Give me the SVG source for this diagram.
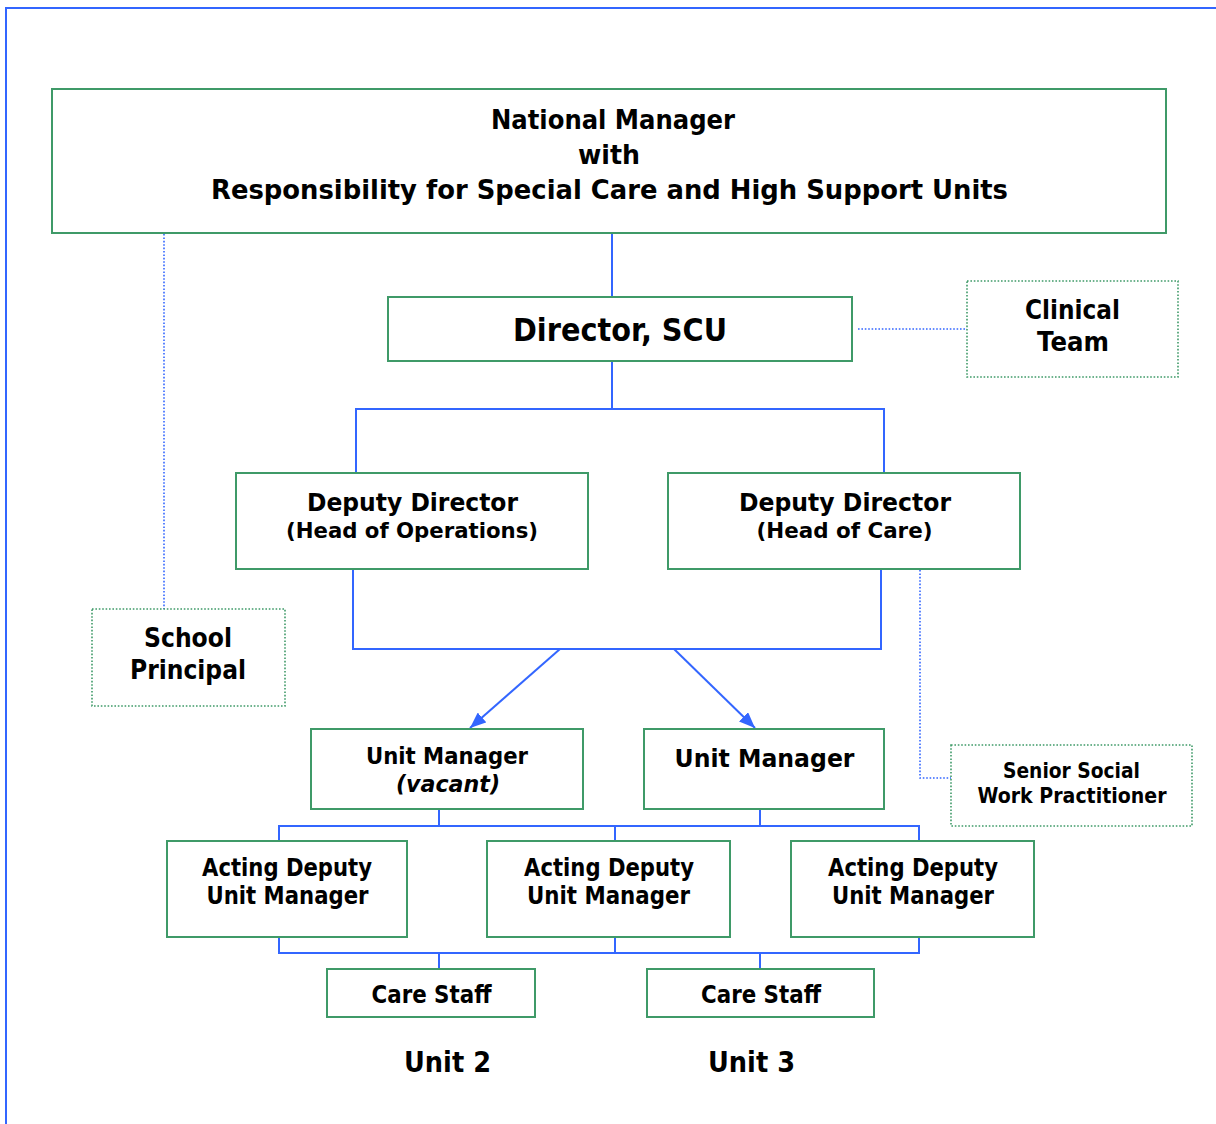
<svg xmlns="http://www.w3.org/2000/svg" width="1216" height="1124" viewBox="0 0 1216 1124">
  <defs>
    <style>
      .box { fill: #ffffff; stroke: #3f9a68; stroke-width: 2; }
      .dbox { fill: #ffffff; stroke: #3f9a68; stroke-width: 1.6; stroke-dasharray: 1.6 1.8; }
      .ln { fill: none; stroke: #3366ff; stroke-width: 2; }
      .dl { fill: none; stroke: #3366ff; stroke-width: 1.6; stroke-dasharray: 1.6 1.8; }
      text { font-family: "DejaVu Sans", Verdana, "Liberation Sans", sans-serif; font-weight: bold; fill: #000000; text-anchor: middle; }
      .it { font-style: italic; }
    </style>
    <marker id="arrow" viewBox="0 0 16 13" refX="16" refY="6.5" markerWidth="16" markerHeight="13" markerUnits="userSpaceOnUse" orient="auto">
      <path d="M0,0 L16,6.5 L0,13 z" fill="#3366ff"/>
    </marker>
  </defs>

  <rect width="1216" height="1124" fill="#ffffff"/>
  <!-- page frame -->
  <rect x="6" y="8" width="1240" height="1140" fill="none" stroke="#3366ff" stroke-width="2"/>

  <!-- connectors -->
  <g id="connectors">
    <path class="ln" d="M612,233 V297"/>
    <path class="ln" d="M612,361 V409 M356,473 V409 H884 V473"/>
    <path class="ln" d="M353,569 V649 H881 V569"/>
    <path class="ln" d="M560,649 L470,728" marker-end="url(#arrow)"/>
    <path class="ln" d="M674,649 L755,728" marker-end="url(#arrow)"/>
    <path class="ln" d="M439,809 V826 M760,809 V826 M279,841 V826 H919 V841 M615,826 V841"/>
    <path class="ln" d="M279,937 V953 H919 V937 M615,937 V953 M439,953 V969 M760,953 V969"/>
    <path class="dl" d="M164,234 V609"/>
    <path class="dl" d="M858,329 H967"/>
    <path class="dl" d="M920,570 V778 H951"/>
  </g>

  <g id="national-manager">
    <rect class="box" x="52" y="89" width="1114" height="144"/>
    <text x="613" y="129" font-size="27" textLength="244" lengthAdjust="spacingAndGlyphs">National Manager</text>
    <text x="609" y="164" font-size="27" textLength="62" lengthAdjust="spacingAndGlyphs">with</text>
    <text x="609.5" y="199" font-size="27" textLength="797" lengthAdjust="spacingAndGlyphs">Responsibility for Special Care and High Support Units</text>
  </g>

  <g id="director">
    <rect class="box" x="388" y="297" width="464" height="64"/>
    <text x="620" y="341" font-size="32" textLength="214" lengthAdjust="spacingAndGlyphs">Director, SCU</text>
  </g>

  <g id="clinical-team">
    <rect class="dbox" x="967" y="281" width="211" height="96"/>
    <text x="1072.5" y="319" font-size="27" textLength="95" lengthAdjust="spacingAndGlyphs">Clinical</text>
    <text x="1073" y="351" font-size="27" textLength="72" lengthAdjust="spacingAndGlyphs">Team</text>
  </g>

  <g id="deputy-operations">
    <rect class="box" x="236" y="473" width="352" height="96"/>
    <text x="412.5" y="511" font-size="25" textLength="211" lengthAdjust="spacingAndGlyphs">Deputy Director</text>
    <text x="412" y="538" font-size="22" textLength="252" lengthAdjust="spacingAndGlyphs">(Head of Operations)</text>
  </g>

  <g id="deputy-care">
    <rect class="box" x="668" y="473" width="352" height="96"/>
    <text x="845" y="511" font-size="25" textLength="212" lengthAdjust="spacingAndGlyphs">Deputy Director</text>
    <text x="844.5" y="538" font-size="22" textLength="176" lengthAdjust="spacingAndGlyphs">(Head of Care)</text>
  </g>

  <g id="school-principal">
    <rect class="dbox" x="92" y="609" width="193" height="97"/>
    <text x="188" y="647" font-size="27" textLength="88" lengthAdjust="spacingAndGlyphs">School</text>
    <text x="188" y="679" font-size="27" textLength="116" lengthAdjust="spacingAndGlyphs">Principal</text>
  </g>

  <g id="unit-manager-vacant">
    <rect class="box" x="311" y="729" width="272" height="80"/>
    <text x="447" y="764" font-size="23" textLength="162" lengthAdjust="spacingAndGlyphs">Unit Manager</text>
    <text class="it" x="448" y="792" font-size="23" textLength="104" lengthAdjust="spacingAndGlyphs">(vacant)</text>
  </g>

  <g id="unit-manager">
    <rect class="box" x="644" y="729" width="240" height="80"/>
    <text x="764.5" y="767" font-size="25" textLength="180" lengthAdjust="spacingAndGlyphs">Unit Manager</text>
  </g>

  <g id="senior-social-work">
    <rect class="dbox" x="951" y="745" width="241" height="81"/>
    <text x="1071.5" y="778" font-size="21" textLength="137" lengthAdjust="spacingAndGlyphs">Senior Social</text>
    <text x="1072" y="803" font-size="21" textLength="189" lengthAdjust="spacingAndGlyphs">Work Practitioner</text>
  </g>

  <g id="acting-deputy-1">
    <rect class="box" x="167" y="841" width="240" height="96"/>
    <text x="287" y="876" font-size="24" textLength="170" lengthAdjust="spacingAndGlyphs">Acting Deputy</text>
    <text x="287.5" y="904" font-size="24" textLength="162" lengthAdjust="spacingAndGlyphs">Unit Manager</text>
  </g>

  <g id="acting-deputy-2">
    <rect class="box" x="487" y="841" width="243" height="96"/>
    <text x="609" y="876" font-size="24" textLength="170" lengthAdjust="spacingAndGlyphs">Acting Deputy</text>
    <text x="608.5" y="904" font-size="24" textLength="163" lengthAdjust="spacingAndGlyphs">Unit Manager</text>
  </g>

  <g id="acting-deputy-3">
    <rect class="box" x="791" y="841" width="243" height="96"/>
    <text x="913" y="876" font-size="24" textLength="170" lengthAdjust="spacingAndGlyphs">Acting Deputy</text>
    <text x="913" y="904" font-size="24" textLength="162" lengthAdjust="spacingAndGlyphs">Unit Manager</text>
  </g>

  <g id="care-staff-2">
    <rect class="box" x="327" y="969" width="208" height="48"/>
    <text x="431.5" y="1003" font-size="24" textLength="120" lengthAdjust="spacingAndGlyphs">Care Staff</text>
  </g>

  <g id="care-staff-3">
    <rect class="box" x="647" y="969" width="227" height="48"/>
    <text x="761" y="1003" font-size="24" textLength="120" lengthAdjust="spacingAndGlyphs">Care Staff</text>
  </g>

  <g id="unit-labels">
    <text x="447.5" y="1072" font-size="29" textLength="87" lengthAdjust="spacingAndGlyphs">Unit 2</text>
    <text x="751.5" y="1072" font-size="29" textLength="87" lengthAdjust="spacingAndGlyphs">Unit 3</text>
  </g>
</svg>
